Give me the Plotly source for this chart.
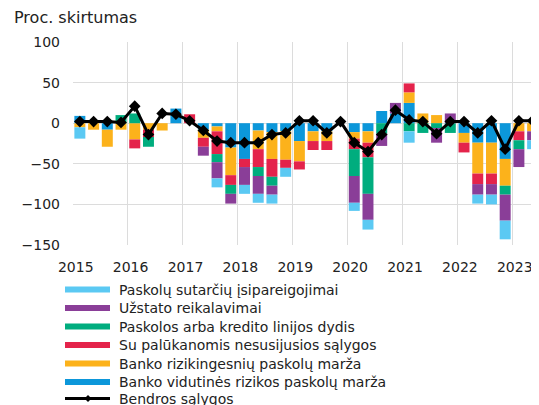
import plotly.graph_objects as go

# ---------------- data ----------------
years = ["2015", "2016", "2017", "2018", "2019", "2020", "2021", "2022", "2023"]
quarters = [f"{y}Q{q}" for y in range(2015, 2024) for q in range(1, 5)][:34]

vidutines = [9, 0, -8, 0, 0, 0, 0, 18, 0, -8, -4, -30, -44, -9, -11, -10, -22, -10, -10, 0,
             -11, -10, 15, 12, 25, 0, 0, 0, -12, -24, -24, -44, 0, 0]
rizikingesniu = [-5, -8, -21, -8, -20, -8, -9, 0, 0, -10, -6, -34, 0, -23, -33, -35, -25, -12, -12, 0,
                 -8, -14, 0, 0, 13, 12, 10, 0, -12, -38, -38, -33, -10, -10]
nesusijusios = [0, 0, 0, 0, -11, -9, 0, 0, 11, -11, -28, -12, -10, -22, -22, -10, -10, -11, -11, 0,
                -13, -18, 0, 0, 11, 0, 0, 0, -12, -13, -13, 0, -11, 0]
dydis = [0, 0, 0, 10, 12, -12, 0, 0, 0, 0, -10, -11, 0, -11, -11, 0, 0, 0, 0, 0,
         -33, -45, -13, 0, -10, -12, -6, -12, 0, 0, 0, -11, -11, 0]
uzstato = [0, 0, 0, 0, 0, 0, 0, 0, 0, -11, -20, -12, -22, -22, -11, 0, 0, 0, 0, 0,
           -33, -32, -15, 13, 0, 0, -18, 12, 0, -13, -13, -32, -22, -11]
isipareigojimai = [-14, 0, 0, 0, 0, 0, 0, 0, 0, 0, -11, 0, -11, -11, -11, -11, 0, 0, 0, 0,
                   -10, -12, 0, 0, -14, 0, 0, 0, 0, -11, -12, -23, 0, -11]
bendros = [2, 2, 2, 1, 21, -14, 12, 11, 3, -9, -22, -24, -24, -24, -14, -12, 3, 3, -12, 2,
           -24, -35, -14, 16, 4, 2, -13, 2, 2, -12, 3, -32, 3, 3]

names = {
    "lb": "Paskolų sutarčių įsipareigojimai",
    "pu": "Užstato reikalavimai",
    "gr": "Paskolos arba kredito linijos dydis",
    "rd": "Su palūkanomis nesusijusios sąlygos",
    "or": "Banko rizikingesnių paskolų marža",
    "bl": "Banko vidutinės rizikos paskolų marža",
    "ln": "Bendros sąlygos",
}
colors = {
    "lb": "#5BC9F3",
    "pu": "#8A3E98",
    "gr": "#00AD7E",
    "rd": "#E4234B",
    "or": "#FCB21B",
    "bl": "#0C97DA",
    "ln": "#000000",
}

x = list(range(len(quarters)))

fig = go.Figure()
# stacking order: from zero outward
for key, vals in [("bl", vidutines), ("or", rizikingesniu), ("rd", nesusijusios),
                  ("gr", dydis), ("pu", uzstato), ("lb", isipareigojimai)]:
    fig.add_trace(go.Bar(x=x, y=vals, name=names[key], marker_color=colors[key],
                         marker_line_width=0, showlegend=False, customdata=quarters))
fig.add_trace(go.Scatter(x=x, y=bendros, name=names["ln"], mode="lines+markers",
                         line=dict(color="black", width=3),
                         marker=dict(symbol="diamond", size=9, color="black"),
                         showlegend=False))

# page body has an 8px margin -> figure origin at (8, 8) on the page
OFF = 8
W, H = 539 - OFF, 405 - OFF
ML, MT, MR = 73 - OFF, 42 - OFF, 0
PW = W - ML - MR
PH = 203
MB = H - MT - PH

def px(xp):  # page pixel -> paper x
    return (xp - OFF - ML) / PW

def py(yp):  # page pixel -> paper y
    return (OFF + MT + PH - yp) / PH

font = "DejaVu Sans"
txt = "#222222"

# manual legend
rows = [("lb", 289.5), ("pu", 308), ("gr", 326.5), ("rd", 345), ("or", 363.5), ("bl", 382), ("ln", 398.5)]
shapes = []
annots = []
for key, yy in rows:
    if key == "ln":
        shapes.append(dict(type="line", xref="paper", yref="paper", x0=px(65), x1=px(110),
                           y0=py(yy), y1=py(yy), line=dict(color="black", width=3)))
        cx, cy, r = 88, yy, 3.5
        path = (f"M{px(cx - r)},{py(cy)} L{px(cx)},{py(cy - r)} "
                f"L{px(cx + r)},{py(cy)} L{px(cx)},{py(cy + r)} Z")
        shapes.append(dict(type="path", xref="paper", yref="paper", path=path,
                           fillcolor="black", line=dict(width=0)))
    else:
        shapes.append(dict(type="line", xref="paper", yref="paper", x0=px(65), x1=px(110),
                           y0=py(yy), y1=py(yy), line=dict(color=colors[key], width=6)))
    annots.append(dict(xref="paper", yref="paper", x=px(117), y=py(yy), text=names[key],
                       showarrow=False, xanchor="left", yanchor="middle",
                       font=dict(family=font, size=14, color=txt)))

annots.append(dict(xref="paper", yref="paper", x=px(12), y=py(18), text="Proc. skirtumas",
                   showarrow=False, xanchor="left", yanchor="middle",
                   font=dict(family=font, size=16, color=txt)))

fig.update_layout(
    width=W, height=H,
    margin=dict(l=ML, r=MR, t=MT, b=MB, pad=0),
    barmode="relative", bargap=0.2,
    plot_bgcolor="white", paper_bgcolor="white",
    showlegend=False,
    shapes=shapes, annotations=annots,
    font=dict(family=font, size=14, color=txt),
)
fig.update_xaxes(
    range=[-0.5, PW / 13.72 - 0.5],
    tickmode="array", tickvals=[4 * k - 0.3 for k in range(len(years))], ticktext=years,
    showgrid=False, zeroline=False, showline=False, ticks="",
    ticklabelstandoff=12,
    minor=dict(tick0=-0.5, dtick=4, showgrid=True, gridcolor="#dcdcdc", gridwidth=1, ticks=""),
    tickfont=dict(family=font, size=14, color=txt),
)
fig.update_yaxes(
    range=[-150, 100], tickvals=[-150, -100, -50, 0, 50, 100],
    showgrid=True, gridcolor="#dcdcdc", gridwidth=1, zeroline=False, showline=False, ticks="",
    ticklabelstandoff=12,
    tickfont=dict(family=font, size=14, color=txt),
)

fig.write_html("out.html")
